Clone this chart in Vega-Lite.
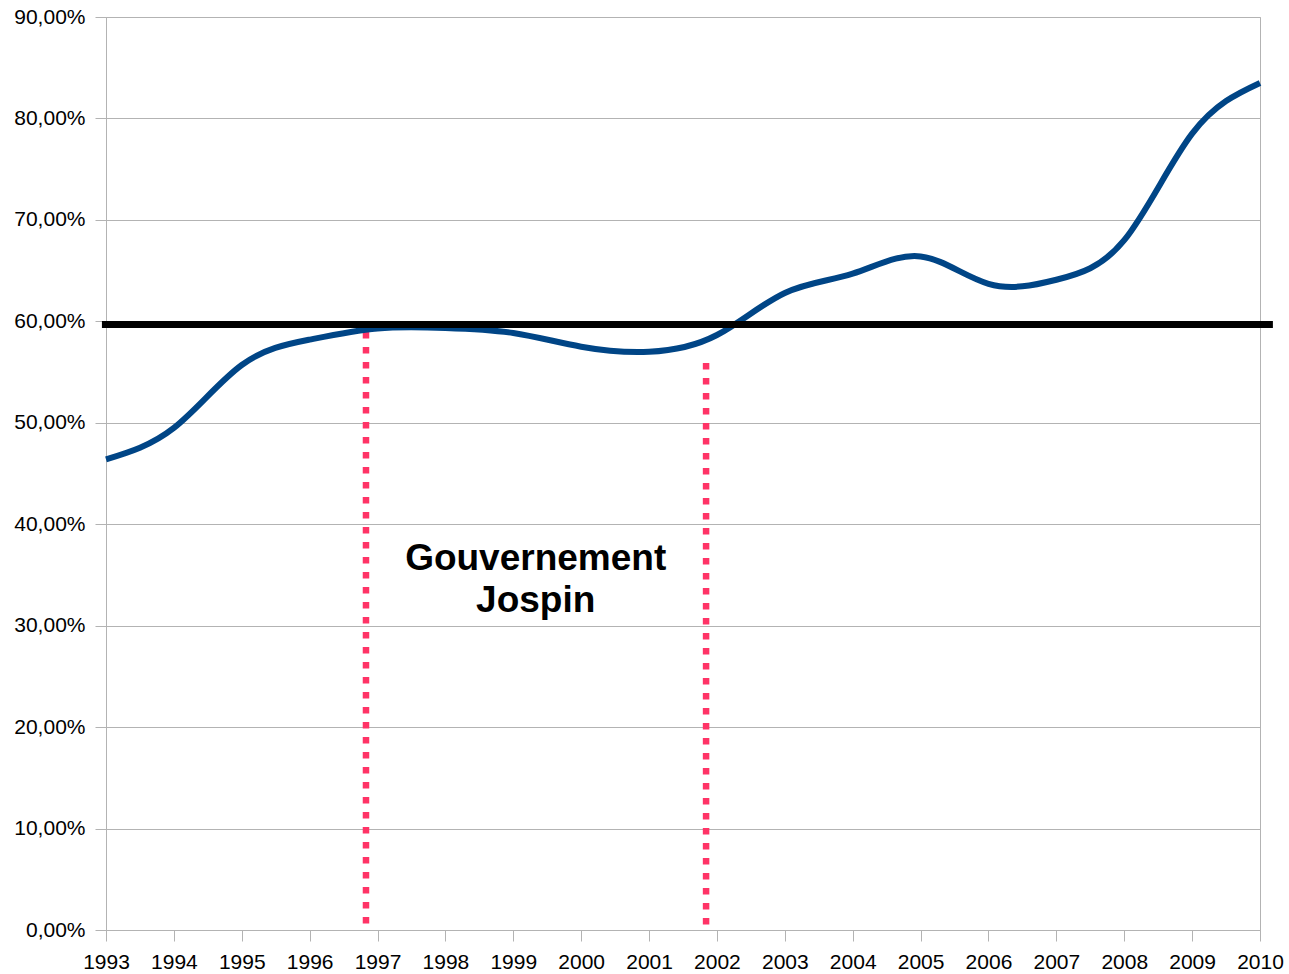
{
  "$schema": "https://vega.github.io/schema/vega-lite/v6.json",
  "width": 1154,
  "height": 913,
  "autosize": "none",
  "padding": {"left": 106, "top": 17, "right": 29, "bottom": 44},
  "background": "white",
  "config": {
    "view": {"stroke": "#b3b3b3", "strokeWidth": 1},
    "font": "Liberation Sans"
  },
  "datasets": {
    "debt": [
      {"year": 1993, "pct": 46.4},
      {"year": 1994, "pct": 49.5},
      {"year": 1995, "pct": 55.7},
      {"year": 1996, "pct": 58.2},
      {"year": 1997, "pct": 59.3},
      {"year": 1998, "pct": 59.35},
      {"year": 1999, "pct": 58.85},
      {"year": 2000, "pct": 57.5},
      {"year": 2001, "pct": 57.0},
      {"year": 2002, "pct": 58.65},
      {"year": 2003, "pct": 62.8},
      {"year": 2004, "pct": 64.7},
      {"year": 2005, "pct": 66.4},
      {"year": 2006, "pct": 63.7},
      {"year": 2007, "pct": 64.1},
      {"year": 2008, "pct": 68.0},
      {"year": 2009, "pct": 78.5},
      {"year": 2010, "pct": 83.5}
    ],
    "limit": [{"start": 1992.94, "end": 2010.19, "level": 59.7}],
    "gov": [
      {"year": 1996.83, "top": 58.95, "bottom": 0},
      {"year": 2001.84, "top": 55.9, "bottom": 0}
    ],
    "label": [{"year": 1999.33, "pct": 35.5, "text": "Gouvernement\nJospin"}]
  },
  "layer": [
    {
      "data": {"name": "gov"},
      "mark": {"type": "rule", "color": "#ff3366", "strokeWidth": 6.5, "strokeDash": [6.5, 8.5]},
      "encoding": {
        "x": {"field": "year", "type": "quantitative"},
        "y": {"field": "top", "type": "quantitative"},
        "y2": {"field": "bottom"}
      }
    },
    {
      "data": {"name": "debt"},
      "mark": {"type": "line", "color": "#004586", "strokeWidth": 6, "interpolate": "natural"},
      "encoding": {
        "x": {
          "field": "year",
          "type": "quantitative",
          "scale": {"domain": [1993, 2010], "nice": false, "zero": false},
          "axis": {
            "title": null,
            "values": [1993, 1994, 1995, 1996, 1997, 1998, 1999, 2000, 2001, 2002, 2003, 2004, 2005, 2006, 2007, 2008, 2009, 2010],
            "format": "d",
            "grid": false,
            "tickSize": 11,
            "tickColor": "#b3b3b3",
            "domainColor": "#b3b3b3",
            "labelFontSize": 21,
            "labelColor": "#000000",
            "labelPadding": 10,
            "labelFlush": false,
            "labelOverlap": false
          }
        },
        "y": {
          "field": "pct",
          "type": "quantitative",
          "scale": {"domain": [0, 90], "nice": false},
          "axis": {
            "title": null,
            "values": [0, 10, 20, 30, 40, 50, 60, 70, 80, 90],
            "labelExpr": "replace(format(datum.value, '.2f'), '.', ',') + '%'",
            "grid": true,
            "gridColor": "#b3b3b3",
            "tickSize": 11,
            "tickColor": "#b3b3b3",
            "domainColor": "#b3b3b3",
            "labelFontSize": 21,
            "labelColor": "#000000",
            "labelPadding": 10
          }
        }
      }
    },
    {
      "data": {"name": "limit"},
      "mark": {"type": "rule", "color": "#000000", "strokeWidth": 7},
      "encoding": {
        "x": {"field": "start", "type": "quantitative"},
        "x2": {"field": "end"},
        "y": {"field": "level", "type": "quantitative"}
      }
    },
    {
      "data": {"name": "label"},
      "mark": {"type": "text", "fontSize": 37, "fontWeight": "bold", "align": "center", "baseline": "alphabetic", "lineBreak": "\n", "lineHeight": 42, "color": "#000000"},
      "encoding": {
        "x": {"field": "year", "type": "quantitative"},
        "y": {"field": "pct", "type": "quantitative"},
        "text": {"field": "text"}
      }
    }
  ]
}
